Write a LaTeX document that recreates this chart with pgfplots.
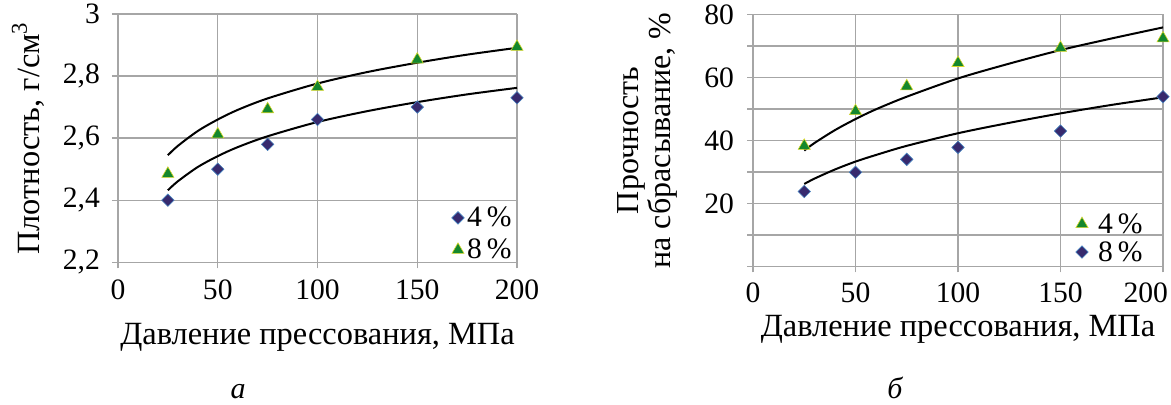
\documentclass[border=0pt]{standalone}
\usepackage{fontspec}
\setmainfont{Liberation Serif}
\usepackage{pgfplots}
\pgfplotsset{compat=1.18}
\definecolor{gridc}{RGB}{166,166,166}
\definecolor{dia}{RGB}{55,42,110}
\definecolor{diaedge}{RGB}{70,130,190}
\definecolor{tri}{RGB}{20,135,45}
\definecolor{triedge}{RGB}{215,215,40}
\pgfplotsset{
 common/.style={
  scale only axis,
  axis x line*=bottom, axis y line*=left,
  axis line style={gridc, line width=0.7pt},
  grid=major, major grid style={gridc, line width=0.7pt},
  tick style={gridc, line width=0.7pt},
  major tick length=6pt, tick align=center,
  tick label style={font=\fontsize{14.8}{17}\selectfont},
  /pgf/number format/assume math mode=true,
  xmin=0, xmax=200, xtick={0,50,100,150,200},
  clip=false,
  legend cell align=left,
  legend image code/.code={\draw[##1] plot coordinates {(0pt,0pt)};},
 },
 dmark/.style={only marks, mark=square*, mark size=2.2pt, mark options={rotate=45, fill=dia, draw=diaedge, line width=0.3pt}},
 tmark/.style={only marks, mark=triangle*, mark size=3.5pt, mark options={fill=tri, draw=triedge, line width=0.3pt}},
 trend/.style={black, line width=1pt, smooth, no markers, forget plot},
}
\begin{document}
\begin{tikzpicture}
\useasboundingbox (0,0) rectangle (585.5pt,202.5pt);
% ---------- left chart
\begin{axis}[common,
  at={(59pt,195.5pt)}, anchor=north west,
  width=199.5pt, height=124.15pt,
  ymin=2.2, ymax=3, ytick={2.2,2.4,2.6,2.8,3},
  yticklabels={{2,2},{2,4},{2,6},{2,8},{3}},
  xticklabel style={yshift=-2pt},
  yticklabel style={xshift=-2.5pt},
  xlabel={Давление прессования, МПа},
  ylabel={Плотность, г/см\textsuperscript{3}},
  xlabel style={font=\fontsize{16.2}{18}\selectfont, at={(axis description cs:0.5,-0.302)}, anchor=center},
  ylabel style={font=\fontsize{16.2}{18}\selectfont, at={(axis description cs:-0.225,0.5)}, anchor=center},
  legend style={draw=none, fill=none, font=\fontsize{14.8}{17}\selectfont,
    at={(axis description cs:1,0)}, anchor=south east, xshift=-1pt, yshift=-2pt,
    inner sep=0pt, nodes={text height=11pt, text depth=2pt, inner sep=1.5pt}},
]
\addplot[trend] coordinates {(25,2.545) (30,2.575) (40,2.623) (50,2.660) (60,2.691) (75,2.728) (100,2.776) (125,2.813) (150,2.843) (175,2.869) (200,2.891)};
\addplot[trend] coordinates {(25,2.432) (30,2.461) (40,2.507) (50,2.542) (60,2.571) (75,2.606) (100,2.652) (125,2.687) (150,2.716) (175,2.741) (200,2.762)};
\addplot[dmark] coordinates {(25,2.40) (50,2.50) (75,2.58) (100,2.66) (150,2.70) (200,2.73)};
\addlegendentry{4\,\%}
\addplot[tmark] coordinates {(25,2.485) (50,2.612) (75,2.693) (100,2.765) (150,2.853) (200,2.894)};
\addlegendentry{8\,\%}
\end{axis}
% ---------- right chart
\begin{axis}[common,
  at={(376.5pt,195.25pt)}, anchor=north west,
  width=205pt, height=126pt,
  ymin=0, ymax=80, ytick={0,10,...,80},
  yticklabels={,,20,,40,,60,,80},
  xticklabels={0,50,100,150,{\makebox[5pt][r]{200}}},
  xticklabel style={yshift=-1.5pt},
  yticklabel style={xshift=-3pt},
  xlabel={Давление прессования, МПа},
  ylabel={Прочность\\на сбрасывание, \%},
  xlabel style={font=\fontsize{16.2}{18}\selectfont, at={(axis description cs:0.5,-0.25)}, anchor=center},
  ylabel style={font=\fontsize{16}{16}\selectfont, at={(axis description cs:-0.257,0.5)}, anchor=center, align=center},
  legend style={draw=none, fill=none, font=\fontsize{14.8}{17}\selectfont,
    at={(axis description cs:1,0)}, anchor=south east, xshift=-8.5pt, yshift=0pt,
    inner sep=0pt, nodes={text height=10pt, text depth=1pt, inner sep=1.5pt}},
]
\addplot[trend] coordinates {(25,36.8) (30,39.2) (40,43.3) (50,46.8) (60,49.9) (75,53.9) (100,59.7) (125,64.4) (150,68.7) (175,72.4) (200,75.9)};
\addplot[trend] coordinates {(25,26.2) (30,27.9) (40,30.8) (50,33.3) (60,35.4) (75,38.3) (100,42.3) (125,45.6) (150,48.6) (175,51.3) (200,53.7)};
\addplot[tmark] coordinates {(25,38.3) (50,49.3) (75,57.2) (100,64.6) (150,69.4) (200,72.4)};
\addlegendentry{\hspace{3.5pt}4\,\%}
\addplot[dmark] coordinates {(25,23.8) (50,29.9) (75,34.0) (100,37.8) (150,43.0) (200,53.9)};
\addlegendentry{\hspace{3.5pt}8\,\%}
\end{axis}
\node[font=\itshape\fontsize{15}{17}\selectfont, anchor=base] at (119pt,3pt) {а};
\node[font=\itshape\fontsize{15}{17}\selectfont, anchor=base] at (447.5pt,3pt) {б};
\end{tikzpicture}
\end{document}
